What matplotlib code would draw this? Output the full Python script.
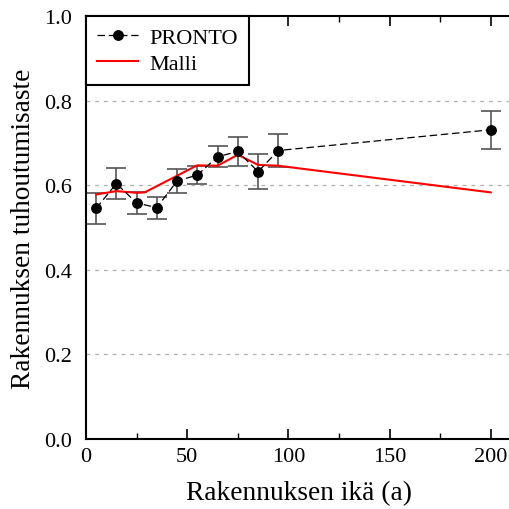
import matplotlib
matplotlib.use("Agg")
import matplotlib.pyplot as plt
from matplotlib.ticker import MultipleLocator, FormatStrFormatter

plt.rcParams['font.family'] = ['Liberation Serif', 'DejaVu Serif']

# Data
age = [5, 15, 25, 35, 45, 55, 65, 75, 85, 95, 200]
pronto = [0.545, 0.604, 0.558, 0.547, 0.610, 0.624, 0.667, 0.680, 0.632, 0.682, 0.731]
pronto_err = [0.037, 0.037, 0.025, 0.026, 0.028, 0.021, 0.025, 0.035, 0.041, 0.040, 0.045]
malli_age = [5, 15, 25, 29, 55, 65, 75, 85, 95, 200]
malli = [0.578, 0.586, 0.582, 0.583, 0.647, 0.646, 0.672, 0.648, 0.646, 0.583]

xlabel = "Rakennuksen ikä (a)"
ylabel = "Rakennuksen tuhoutumisaste"

fig = plt.figure(figsize=(5.1, 5.1), dpi=100)
ax = fig.add_axes([86/510, 70/510, (511 - 86)/510, (440 - 17)/510])

for y in [0.2, 0.4, 0.6, 0.8]:
    ax.axhline(y, color='#b0b0b0', lw=0.9, ls=(0, (3, 4)), zorder=0)

ax.errorbar(age, pronto, yerr=pronto_err, fmt='none', ecolor='#555555',
            elinewidth=1.2, capsize=7, capthick=1.2, zorder=2)
ax.plot(age, pronto, color='black', lw=0.9, ls=(0, (6, 3)), marker='o',
        markersize=6.8, markerfacecolor='black', markeredgecolor='black',
        label='PRONTO', zorder=3)
ax.plot(malli_age, malli, color='#ff0000', lw=1.5, label='Malli', zorder=2.5)

ax.set_xlim(0, 210)
ax.set_ylim(0, 1.0)
ax.xaxis.set_major_locator(MultipleLocator(50))
ax.xaxis.set_minor_locator(MultipleLocator(25))
ax.yaxis.set_major_locator(MultipleLocator(0.2))
ax.yaxis.set_major_formatter(FormatStrFormatter('%.1f'))

ax.tick_params(axis='x', which='major', direction='in', length=7, width=1.2,
               top=True, labelsize=16, pad=6)
ax.tick_params(axis='x', which='minor', direction='in', length=4, width=1.0, top=True)
ax.tick_params(axis='y', which='major', direction='in', length=0, labelsize=16, pad=10)

for s in ax.spines.values():
    s.set_linewidth(1.5)
ax.spines['right'].set_visible(False)

ax.set_xlabel(xlabel, fontsize=19.7, labelpad=10)
ax.set_ylabel(ylabel, fontsize=19.7, labelpad=6)

leg = ax.legend(loc='upper left', bbox_to_anchor=(0.0, 1.0), fontsize=16,
                frameon=True, fancybox=False, framealpha=1, edgecolor='black',
                handlelength=1.85, borderaxespad=0, borderpad=0.5,
                labelspacing=0.25, handletextpad=0.5)
leg.get_frame().set_linewidth(1.5)

fig.savefig("out.png", dpi=100)
